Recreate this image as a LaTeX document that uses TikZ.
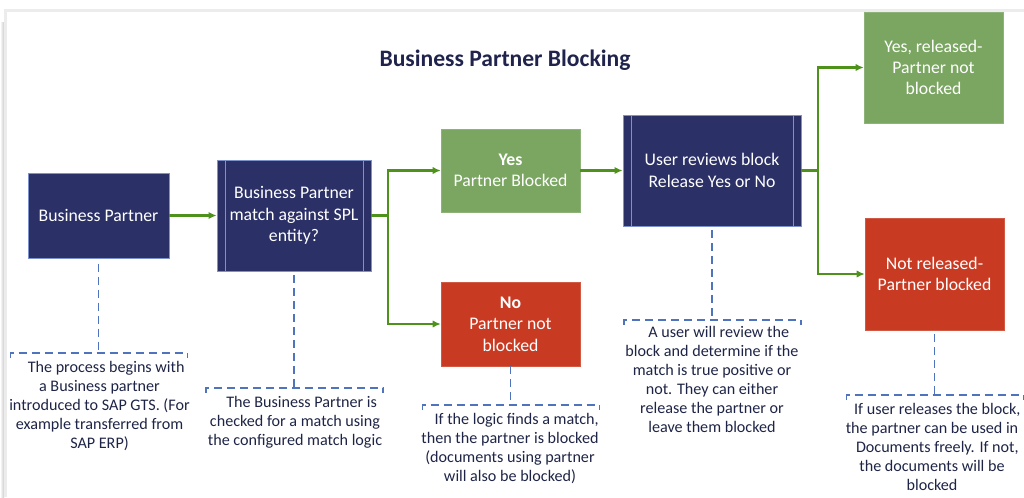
\documentclass[tikz,border=0pt]{standalone}
\usepackage{fontspec}
\setmainfont{Carlito}
\usetikzlibrary{arrows.meta}
\definecolor{bpnavy}{RGB}{43,48,102}
\definecolor{bpedge}{RGB}{125,145,205}
\definecolor{bpgreen}{RGB}{122,166,97}
\definecolor{bpred}{RGB}{201,58,34}
\definecolor{flowgreen}{RGB}{78,146,28}
\definecolor{notedash}{RGB}{80,115,190}
\definecolor{notetext}{RGB}{30,36,70}
\definecolor{framegray}{RGB}{236,236,236}

\begin{document}
\begin{tikzpicture}[x=0.75pt,y=-0.75pt]
    \tikzset{>={Latex[length=6pt,width=5.5pt]}}
    \tikzset{
      box/.style={fill=#1, draw=#1!85!white, text=white, align=center, inner sep=2pt,
        font=\fontsize{13.3}{16}\selectfont},
      navybox/.style={box=bpnavy, draw=bpedge, line width=0.6pt},
      procbox/.style={navybox, path picture={
        \draw[bpedge, line width=0.6pt] ([xshift=6pt]path picture bounding box.north west) -- ([xshift=6pt]path picture bounding box.south west);
        \draw[bpedge, line width=0.6pt] ([xshift=-6pt]path picture bounding box.north east) -- ([xshift=-6pt]path picture bounding box.south east);}},
      flow/.style={flowgreen, line width=1.6pt, ->},
      noteline/.style={notedash, line width=1.1pt, dash pattern=on 6pt off 3.75pt},
      note/.style={text=notetext, align=center, inner sep=0pt, anchor=north,
        font=\fontsize{12.1}{14.25}\selectfont}
    }
    \useasboundingbox (0,0) rectangle (1024,497);
    % page frame and shadow
    \shade[left color=white, right color=gray!40] (0,22) rectangle (4,497);
    \draw[framegray, line width=2.25pt] (5.5,497) -- (5.5,10.5) -- (1024,10.5);

    \node[font=\fontsize{17.7}{20}\selectfont\bfseries, text=bpnavy!75!black] (title) at (505,60) {Business Partner Blocking};

    \node[navybox, minimum width=105.75pt, minimum height=63.75pt] (bp) at (98.5,215.5) {Business Partner};
    \node[procbox, minimum width=115.5pt, minimum height=83.25pt] (match) at (294,215.5) {Business Partner\\match against SPL\\entity?};
    \node[box=bpgreen, minimum width=104.25pt, minimum height=62.25pt] (yes) at (510.5,170.5) {\textbf{Yes}\\Partner Blocked};
    \node[box=bpred, minimum width=104.25pt, minimum height=63pt] (no) at (510.5,324) {\textbf{No}\\Partner not\\blocked};
    \node[procbox, minimum width=133.5pt, minimum height=83.25pt] (user) at (712,170.5) {User reviews block\\Release Yes or No};
    \node[box=bpgreen, minimum width=104.25pt, minimum height=83.25pt] (rel) at (933.5,67.5) {Yes, released-\\Partner not\\blocked};
    \node[box=bpred, minimum width=104.25pt, minimum height=84pt] (norel) at (934.5,274) {Not released-\\Partner blocked};

    \draw[flow] (bp) -- (match);
    \draw[flow] (match.east) -- ++(17,0) |- (yes.west);
    \draw[flow] (match.east) -- ++(17,0) |- (no.west);
    \draw[flow] (yes) -- (user);
    \draw[flow] (user.east) -- ++(17,0) |- (rel.west);
    \draw[flow] (user.east) -- ++(17,0) |- (norel.west);

    % callouts
    \coordinate (k1) at (98.5,353);
    \coordinate (k2) at (294,388);
    \coordinate (k3) at (510.5,405);
    \coordinate (k4) at (712,320);
    \coordinate (k5) at (934.5,395);
    \draw[noteline, shorten <=4pt] (bp.south) -- (k1);
    \draw[noteline, shorten <=3pt] (match.south) -- (k2);
    \draw[noteline] (no.south) -- (k3);
    \draw[noteline, shorten <=3pt] (user.south) -- (k4);
    \draw[noteline, shorten <=3pt] (norel.south) -- (k5);
    \foreach \k in {k1,k2,k3,k4,k5}
      \draw[noteline] ([shift={(-88,5)}]\k) -- ++(0,-5) -- ++(177,0) -- ++(0,5);

    \node[note] (n1) at (99.5,361) {\hspace*{10pt}The process begins with\\a Business partner\\introduced to SAP GTS. (For\\example transferred from\\SAP ERP)};
    \node[note] (n2) at (295,396) {\hspace*{10pt}The Business Partner is\\checked for a match using\\the configured match logic};
    \node[note] (n3) at (510,413) {\hspace*{10pt}If the logic finds a match,\\then the partner is blocked\\(documents using partner\\will also be blocked)};
    \node[note] (n4) at (712,326) {\hspace*{10pt}A user will review the\\block and determine if the\\match is true positive or\\not. They can either\\release the partner or\\leave them blocked};
    \node[note] (n5) at (932,403) {\hspace*{8pt}If user releases the block,\\the partner can be used in\\\hspace*{8pt}Documents freely. If not,\\the documents will be\\blocked};
\end{tikzpicture}
\end{document}
